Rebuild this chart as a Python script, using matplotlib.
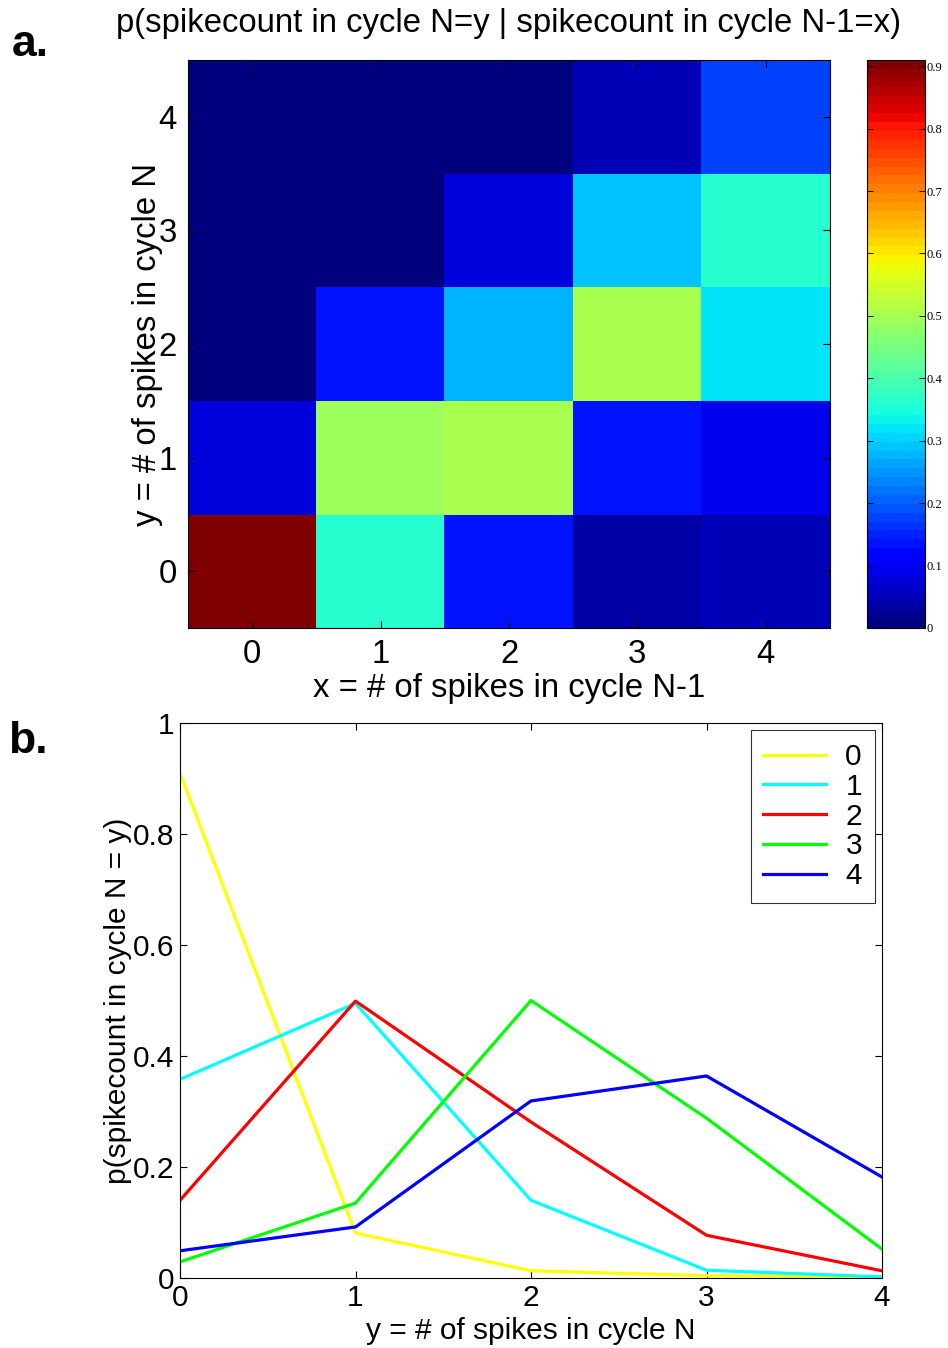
import numpy as np
import matplotlib
matplotlib.use("Agg")
import matplotlib.pyplot as plt

plt.rcParams['font.family'] = ['Liberation Sans', 'DejaVu Sans']

counts = [0, 1, 2, 3, 4]
# p(y | x): one list per previous-cycle count x, values over y = 0..4
p_x0 = [0.910, 0.081, 0.013, 0.004, 0.002]
p_x1 = [0.358, 0.495, 0.140, 0.014, 0.002]
p_x2 = [0.140, 0.499, 0.281, 0.077, 0.013]
p_x3 = [0.029, 0.135, 0.500, 0.288, 0.052]
p_x4 = [0.049, 0.092, 0.319, 0.364, 0.182]
series = [p_x0, p_x1, p_x2, p_x3, p_x4]
series_labels = ['0', '1', '2', '3', '4']
series_colors = ['#ffff00', '#00ffff', '#ff0000', '#00ff00', '#0000ff']
cbar_ticks = [0, 0.1, 0.2, 0.3, 0.4, 0.5, 0.6, 0.7, 0.8, 0.9]
b_yticks = [0, 0.2, 0.4, 0.6, 0.8, 1]
b_yticklabels = ['0', '0.2', '0.4', '0.6', '0.8', '1']

FS = 23.7
FSB = 21.5
W, H = 948, 1348
fig = plt.figure(figsize=(W / 100, H / 100), dpi=100)

def px_axes(x0, y0, x1, y1):
    return fig.add_axes([x0 / W, 1 - y1 / H, (x1 - x0) / W, (y1 - y0) / H])

# ---- panel a ----
M = np.array(series).T  # rows = y, cols = x
axa = px_axes(188, 60, 830, 628)
cmap = plt.get_cmap('jet', 64)
im = axa.imshow(M, origin='lower', cmap=cmap, vmin=0, vmax=max(map(max, series)),
                aspect='auto', extent=(-0.5, 4.5, -0.5, 4.5), interpolation='nearest')
axa.set_xticks(counts)
axa.set_yticks(counts)
axa.tick_params(direction='in', top=True, right=True, labelsize=FS, length=5,
                width=0.8, pad=8)
axa.set_title('p(spikecount in cycle N=y | spikecount in cycle N-1=x)',
              fontsize=FS, pad=20)
axa.set_xlabel('x = # of spikes in cycle N-1', fontsize=FS, labelpad=2)
axa.set_ylabel('y = # of spikes in cycle N', fontsize=FS)
axa.yaxis.set_label_coords((163 - 188) / 642, 0.5)
for s in axa.spines.values():
    s.set_linewidth(0.8)

cax = px_axes(867, 60, 925, 628)
cb = fig.colorbar(im, cax=cax, ticks=cbar_ticks)
cb.ax.set_yticklabels([f'{t:g}' for t in cbar_ticks], family='Liberation Serif', fontsize=9)
cb.ax.tick_params(direction='in', length=4, width=0.6, pad=1, left=True)
cb.outline.set_linewidth(0.8)

# ---- panel b ----
axb = px_axes(180, 723, 882, 1278)
for vals, lab, col in zip(series, series_labels, series_colors):
    axb.plot(counts, vals, color=col, lw=2.3, label=lab)
axb.set_xlim(0, 4)
axb.set_ylim(0, 1)
axb.set_xticks(counts)
axb.set_yticks(b_yticks)
axb.set_yticklabels(b_yticklabels)
axb.tick_params(direction='in', top=True, right=True, labelsize=FSB, length=5,
                width=0.8, pad=4)
axb.set_xlabel('y = # of spikes in cycle N', fontsize=FSB, labelpad=4)
axb.set_ylabel('p(spikecount in cycle N = y)', fontsize=FSB)
axb.yaxis.set_label_coords((132 - 180) / 702, 0.5)
for s in axb.spines.values():
    s.set_linewidth(0.8)
leg = axb.legend(loc='upper right', fontsize=FSB, frameon=True, fancybox=False,
                 edgecolor='black', borderaxespad=0.25, handlelength=2.1,
                 handletextpad=0.65, labelspacing=0.06, borderpad=0.42)
leg.get_frame().set_linewidth(0.8)

fig.text(12 / W, 1 - 56 / H, 'a.', fontsize=32, fontweight='bold',
         family=['Liberation Sans Narrow', 'Liberation Sans'])
fig.text(8 / W, 1 - 753 / H, 'b.', fontsize=32, fontweight='bold',
         family=['Liberation Sans Narrow', 'Liberation Sans'])

fig.savefig('out.png', dpi=100)
